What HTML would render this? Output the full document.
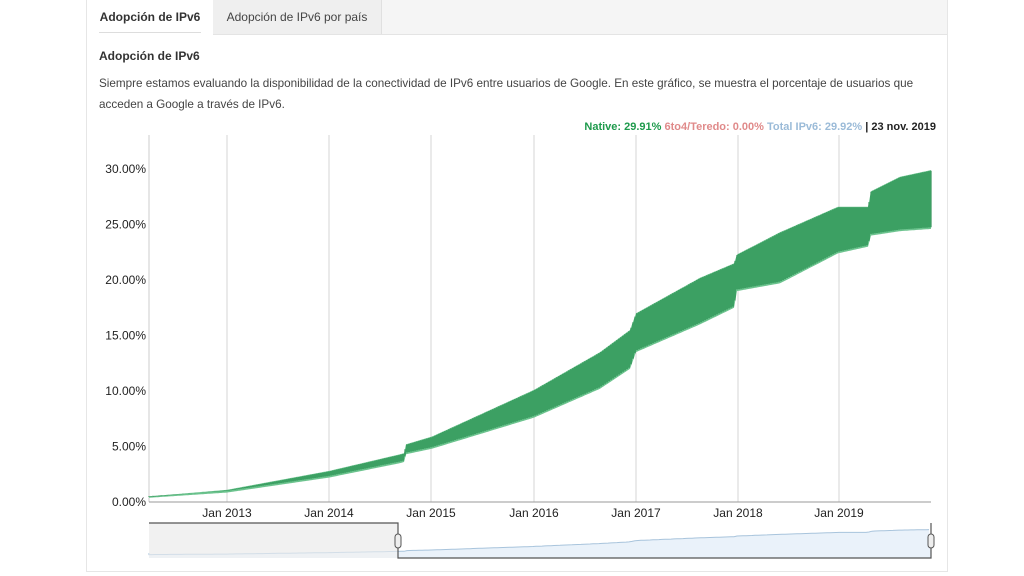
<!DOCTYPE html>
<html><head><meta charset="utf-8"><style>
body{margin:0;width:1024px;height:576px;background:#fff;font-family:"Liberation Sans",Arial,sans-serif;position:relative;overflow:hidden}
.box{position:absolute;left:86px;top:-1px;width:862px;height:573px;border:1px solid #e6e6e6;box-sizing:border-box}
.tabs{position:absolute;left:87px;top:0;width:860px;height:34px;background:#f5f5f5;border-bottom:1px solid #e4e4e4}
.t1{position:absolute;left:0;top:0;width:126px;height:35px;background:#fff;font-size:12px;font-weight:bold;color:#333;line-height:34px;text-align:center}
.t1:after{content:"";position:absolute;left:12px;right:12px;bottom:2px;border-bottom:1px solid #ddd}
.t2{position:absolute;left:126px;top:0;width:168px;height:34px;background:#efefef;font-size:12px;color:#444;line-height:34px;text-align:center;border-right:1px solid #e0e0e0}
.h{position:absolute;left:99px;top:49px;font-size:12px;font-weight:bold;color:#333}
.p{position:absolute;left:99px;top:73px;width:830px;font-size:11.7px;color:#444;line-height:21px}
.leg{position:absolute;right:88px;top:121px;font-size:11px;font-weight:bold;white-space:nowrap}
</style></head><body>
<div class="box"></div>
<div class="tabs"><div class="t1">Adopción de IPv6</div><div class="t2">Adopción de IPv6 por país</div></div>
<div class="h">Adopción de IPv6</div>
<div class="p">Siempre estamos evaluando la disponibilidad de la conectividad de IPv6 entre usuarios de Google. En este gráfico, se muestra el porcentaje de usuarios que<br>acceden a Google a través de IPv6.</div>
<div class="leg"><span style="color:#1e9a4c">Native: 29.91%</span> <span style="color:#e08a8a">6to4/Teredo: 0.00%</span> <span style="color:#9bbbd8">Total IPv6: 29.92%</span> <span style="color:#222">| 23 nov. 2019</span></div>
<svg id="s" width="1024" height="576" style="position:absolute;left:0;top:0" font-family="Liberation Sans, Arial, sans-serif" font-size="12"></svg>
<script>
var s=document.getElementById('s'),h='';
var X0=149,X1=931,Y0=502,k=11.1;
function y(v){return Y0-v*k}
[[30,'30.00%'],[25,'25.00%'],[20,'20.00%'],[15,'15.00%'],[10,'10.00%'],[5,'5.00%'],[0,'0.00%']].forEach(function(a){
 var yy=y(a[0]);
 h+='<text x="146" y="'+(yy+4)+'" text-anchor="end" fill="#222">'+a[1]+'</text>';
});
var gx=[227,329,431,534,636,738,839],yl=['Jan 2013','Jan 2014','Jan 2015','Jan 2016','Jan 2017','Jan 2018','Jan 2019'];
h+='<line x1="149" y1="135" x2="149" y2="502" stroke="#ccc"/>';
gx.forEach(function(x,i){h+='<line x1="'+x+'" x2="'+x+'" y1="135" y2="502" stroke="#d6d6d6"/><text x="'+x+'" y="517" text-anchor="middle" fill="#222">'+yl[i]+'</text>';});
h+='<line x1="149" x2="931" y1="502" y2="502" stroke="#999"/>';
var L=[[149,0.38,0.5],[227,0.85,1.1],[329,2.2,2.8],[400,3.5,4.3],[404,3.6,4.4],[406,4.3,5.2],[432,4.8,5.9],[534,7.6,10.1],[600,10.2,13.5],[630,12,15.5],[636,13.5,17],[700,16,20.2],[734,17.5,21.5],[737,19,22.3],[780,19.7,24.3],[838,22.4,26.6],[868,23,26.6],[871,24,28],[900,24.4,29.3],[931,24.6,29.9]];
function itp(x,j){for(var i=1;i<L.length;i++)if(x<=L[i][0]){var a=L[i-1],b=L[i],t=(x-a[0])/(b[0]-a[0]);return a[j]+t*(b[j]-a[j]);}return L[L.length-1][j];}
var up='';
for(var x=X0;x<=X1;x++){up+=(x==X0?'M':'L')+x+','+y(itp(x,2)).toFixed(1);}
for(var x=X1;x>=X0;x--){up+='L'+x+','+y(itp(x,1)).toFixed(1);}
h+='<path d="'+up+'Z" fill="#6cc38e"/>';
for(var x=X0;x<=X1;x+=2){h+='<line x1="'+x+'" x2="'+x+'" y1="'+y(itp(x,1)+0.15).toFixed(1)+'" y2="'+y(itp(x,2)-0.05).toFixed(1)+'" stroke="#0d7d38" stroke-width="1"/>';}
h+='<rect x="149" y="523" width="782" height="35" fill="#fff"/>';
h+='<rect x="149" y="523" width="249" height="35" fill="#f2f2f2"/>';
var nav='M149,553';
for(var x=149;x<=931;x+=3){var v=itp(x,2);nav+='L'+x+','+(555-v*0.85+(x%6?0:-1.2)).toFixed(1);}
h+='<path d="'+nav+'L931,558L149,558Z" fill="#eaf2fa" stroke="none"/><path d="'+nav+'" fill="none" stroke="#a8c4dc"/>';
h+='<rect x="149" y="523" width="249" height="35" fill="rgba(240,240,240,0.6)"/>';
h+='<path d="M149,523H398V558H931V523" fill="none" stroke="#555" stroke-width="1.2"/>';
h+='<rect x="395" y="534" width="6" height="14" rx="3" fill="#eee" stroke="#555"/><rect x="928" y="534" width="6" height="14" rx="3" fill="#eee" stroke="#555"/>';
s.innerHTML=h;
</script>
</body></html>
